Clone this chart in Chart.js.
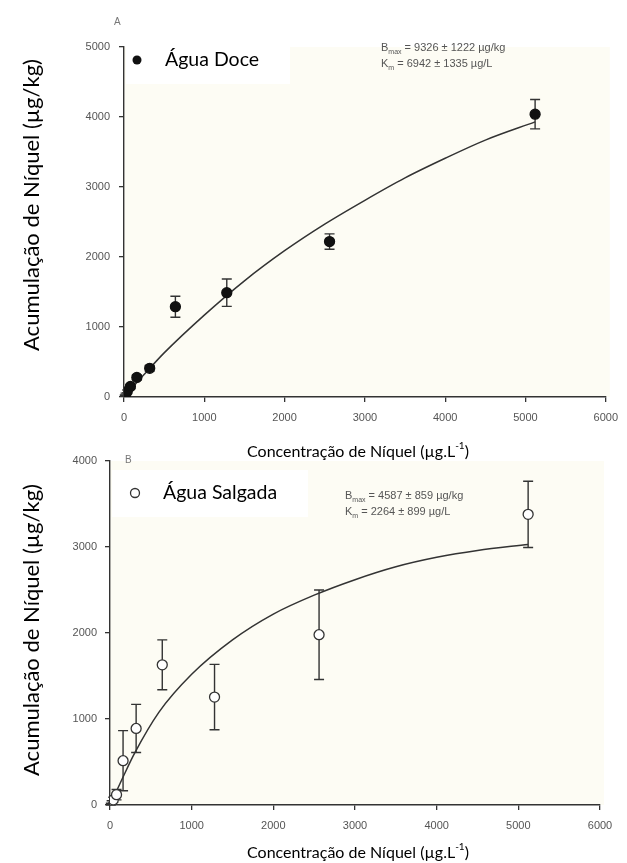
<!DOCTYPE html>
<html>
<head>
<meta charset="utf-8">
<script src="https://cdn.jsdelivr.net/npm/chart.js@4/dist/chart.umd.min.js"></script>
<style>
  html, body { margin: 0; padding: 0; background: #ffffff; }
  #wrap { position: relative; width: 627px; height: 863px; }
  #wrap canvas { position: absolute; left: 0; top: 0; }
</style>
</head>
<body>
<div id="wrap">
  <canvas id="freshChart" width="627" height="863"></canvas>
  <canvas id="saltChart" width="627" height="863"></canvas>
</div>
<script>
// Nickel concentration in the exposure water (µg/L)
const concentrations = [0, 10, 20, 40, 80, 160, 320, 640, 1280, 2560, 5120];

// Freshwater: mean accumulation (µg/kg) and error
const freshMean  = [0, 20, 40, 80, 150, 280, 410, 1290, 1490, 2220, 4040];
const freshError = [0, 10, 15, 20, 30, 35, 40, 150, 195, 110, 210];

// Saltwater: mean accumulation (µg/kg) and error
const saltMean  = [0, 10, 30, 60, 120, 515, 890, 1630, 1255, 1980, 3380];
const saltError = [0, 10, 20, 30, 60, 350, 280, 290, 380, 520, 385];

// Saturation curves (Bmax / Km fits)
const freshFitX = [0, 250, 500, 1000, 1500, 2000, 2500, 3000, 3500, 4000, 4500, 5120];
const freshFitY = [0, 320, 630, 1170, 1660, 2090, 2470, 2810, 3130, 3410, 3670, 3930];
const saltFitX  = [0, 150, 300, 600, 1000, 1500, 2000, 2500, 3000, 3500, 4000, 4500, 5120];
const saltFitY  = [0, 305, 600, 1080, 1520, 1920, 2220, 2440, 2620, 2770, 2880, 2960, 3030];

// Axis ticks
const xTicks      = [0, 1000, 2000, 3000, 4000, 5000, 6000];
const freshYTicks = [0, 1000, 2000, 3000, 4000, 5000];
const saltYTicks  = [0, 1000, 2000, 3000, 4000];

// Text
const yTitle = 'Acumulação de Níquel (µg/kg)';
const xTitleMain = 'Concentração de Níquel (µg.L';
const xTitleSup = '-1';
const freshLabel = 'Água Doce';
const saltLabel = 'Água Salgada';
const freshFit = { bmax: '9326 ± 1222 µg/kg', km: '6942 ± 1335 µg/L' };
const saltFit  = { bmax: '4587 ± 859 µg/kg',  km: '2264 ± 899 µg/L' };

const AXIS = '#333333';
const TICK_TEXT = '#555555';
const TITLE_FONT = 'Lato, "Open Sans", sans-serif';
const SMALL_FONT = '"Liberation Sans", Arial, sans-serif';

function pairs(xs, ys) { return xs.map((x, i) => ({ x: x, y: ys[i] })); }

// Vertical error bars with caps, drawn under the markers
const errorBarPlugin = {
  id: 'errorBars',
  beforeDatasetsDraw(chart) {
    const ctx = chart.ctx;
    const xs = chart.scales.x, ys = chart.scales.y;
    chart.data.datasets.forEach(ds => {
      if (!ds.errors) return;
      ctx.save();
      ctx.strokeStyle = AXIS;
      ctx.lineWidth = 1.4;
      ds.data.forEach((p, i) => {
        const e = ds.errors[i];
        if (!e) return;
        const px = xs.getPixelForValue(p.x);
        const top = ys.getPixelForValue(p.y + e);
        const bot = ys.getPixelForValue(Math.max(0, p.y - e));
        ctx.beginPath();
        ctx.moveTo(px, top); ctx.lineTo(px, bot);
        ctx.moveTo(px - 5, top); ctx.lineTo(px + 5, top);
        ctx.moveTo(px - 5, bot); ctx.lineTo(px + 5, bot);
        ctx.stroke();
      });
      ctx.restore();
    });
  }
};

// Plot background, panel letter, legend label, fit parameters and axis titles
const decorPlugin = {
  id: 'decor',
  beforeDraw(chart, args, o) {
    const ctx = chart.ctx, a = chart.chartArea;
    ctx.save();
    ctx.fillStyle = '#fdfcf4';
    ctx.fillRect(a.left, a.top, a.right - a.left + 4, a.bottom - a.top);
    ctx.fillStyle = '#ffffff';
    ctx.fillRect(o.labelBox[0], o.labelBox[1], o.labelBox[2], o.labelBox[3]);
    ctx.restore();
  },
  afterDraw(chart, args, o) {
    const ctx = chart.ctx;
    ctx.save();

    // panel letter
    ctx.fillStyle = '#777777';
    ctx.font = '10px ' + SMALL_FONT;
    ctx.textAlign = 'left';
    ctx.textBaseline = 'middle';
    ctx.fillText(o.letter, o.letterPos[0], o.letterPos[1]);

    // legend marker + label
    ctx.beginPath();
    ctx.arc(o.markerPos[0], o.markerPos[1], 4.5, 0, Math.PI * 2);
    if (o.filled) { ctx.fillStyle = '#111111'; ctx.fill(); }
    else { ctx.fillStyle = '#ffffff'; ctx.fill(); ctx.strokeStyle = '#333333'; ctx.lineWidth = 1.3; ctx.stroke(); }
    ctx.fillStyle = '#000000';
    ctx.font = '19.5px ' + TITLE_FONT;
    ctx.fillText(o.label, o.labelPos[0], o.labelPos[1]);

    // fit parameters with subscripts
    const drawParam = (x, y, main, sub, rest) => {
      ctx.fillStyle = '#555555';
      ctx.textBaseline = 'alphabetic';
      ctx.font = '11px ' + SMALL_FONT;
      ctx.fillText(main, x, y);
      x += ctx.measureText(main).width;
      ctx.font = '7px ' + SMALL_FONT;
      ctx.fillText(sub, x, y + 3);
      x += ctx.measureText(sub).width;
      ctx.font = '11px ' + SMALL_FONT;
      ctx.fillText(rest, x, y);
    };
    drawParam(o.paramPos[0], o.paramPos[1], 'B', 'max', ' = ' + o.fit.bmax);
    drawParam(o.paramPos[0], o.paramPos[1] + 16, 'K', 'm', ' = ' + o.fit.km);

    // y axis title
    ctx.save();
    ctx.translate(o.yTitlePos[0], o.yTitlePos[1]);
    ctx.rotate(-Math.PI / 2);
    ctx.fillStyle = '#000000';
    ctx.font = '22px ' + TITLE_FONT;
    ctx.textAlign = 'center';
    ctx.textBaseline = 'middle';
    ctx.fillText(yTitle, 0, 0);
    ctx.restore();

    // x axis title with superscript
    ctx.fillStyle = '#000000';
    ctx.textBaseline = 'middle';
    ctx.textAlign = 'left';
    ctx.font = '16px ' + TITLE_FONT;
    const w1 = ctx.measureText(xTitleMain).width;
    const w3 = ctx.measureText(')').width;
    ctx.font = '10px ' + TITLE_FONT;
    const w2 = ctx.measureText(xTitleSup).width;
    let x = o.xTitlePos[0] - (w1 + w2 + w3) / 2;
    const y = o.xTitlePos[1];
    ctx.font = '16px ' + TITLE_FONT;
    ctx.fillText(xTitleMain, x, y);
    x += w1;
    ctx.font = '10px ' + TITLE_FONT;
    ctx.fillText(xTitleSup, x, y - 6);
    x += w2;
    ctx.font = '16px ' + TITLE_FONT;
    ctx.fillText(')', x, y);

    ctx.restore();
  }
};

function axisOptions(ticks, max, widthOrHeight, isX, pad) {
  return {
    type: 'linear',
    min: 0,
    max: max,
    afterBuildTicks: s => { s.ticks = ticks.map(v => ({ value: v })); },
    afterFit: s => { if (isX) s.height = widthOrHeight; else s.width = widthOrHeight; },
    grid: { display: true, drawOnChartArea: false, drawTicks: true, tickLength: 5, color: AXIS, tickColor: AXIS, lineWidth: 1.3 },
    border: { display: true, color: AXIS, width: 1.4 },
    ticks: {
      color: TICK_TEXT,
      font: { family: SMALL_FONT, size: 11 },
      padding: pad,
      maxRotation: 0,
      autoSkip: false,
      callback: v => String(v)
    }
  };
}

function makeChart(id, cfg) {
  return new Chart(document.getElementById(id), {
    type: 'scatter',
    data: {
      datasets: [
        {
          data: pairs(concentrations, cfg.mean),
          errors: cfg.error,
          order: 0,
          pointRadius: 5,
          pointHoverRadius: 5,
          pointBackgroundColor: cfg.filled ? '#111111' : '#ffffff',
          pointBorderColor: cfg.filled ? '#111111' : '#333333',
          pointBorderWidth: 1.3,
          showLine: false
        },
        {
          data: pairs(cfg.fitX, cfg.fitY),
          order: 1,
          showLine: true,
          pointRadius: 0,
          borderColor: '#333333',
          borderWidth: 1.5,
          cubicInterpolationMode: 'monotone'
        }
      ]
    },
    options: {
      responsive: false,
      animation: false,
      events: [],
      layout: { padding: cfg.padding },
      scales: {
        x: axisOptions(xTicks, 6000, 30, true, 9),
        y: axisOptions(cfg.yTicks, cfg.yMax, cfg.yWidth, false, cfg.yPad)
      },
      plugins: {
        legend: { display: false },
        tooltip: { enabled: false },
        decor: cfg.decor
      }
    },
    plugins: [errorBarPlugin, decorPlugin]
  });
}

makeChart('freshChart', {
  mean: freshMean, error: freshError, fitX: freshFitX, fitY: freshFitY,
  filled: true, yTicks: freshYTicks, yMax: 5000, yWidth: 124, yPad: 9,
  padding: { left: 0, right: 13, top: 47, bottom: 863 - 397 - 30 },
  decor: {
    letter: 'A', letterPos: [114, 22],
    filled: true, markerPos: [137, 60], label: freshLabel, labelPos: [165, 60],
    labelBox: [126, 40, 164, 44],
    fit: freshFit, paramPos: [381, 51],
    yTitlePos: [32, 205], xTitlePos: [358, 452]
  }
});

makeChart('saltChart', {
  mean: saltMean, error: saltError, fitX: saltFitX, fitY: saltFitY,
  filled: false, yTicks: saltYTicks, yMax: 4000, yWidth: 110, yPad: 8,
  padding: { left: 0, right: 27, top: 461, bottom: 863 - 805 - 30 },
  decor: {
    letter: 'B', letterPos: [125, 460],
    filled: false, markerPos: [135, 493], label: saltLabel, labelPos: [163, 493],
    labelBox: [112, 470, 196, 47],
    fit: saltFit, paramPos: [345, 499],
    yTitlePos: [32, 630], xTitlePos: [358, 853]
  }
});
</script>
</body>
</html>
